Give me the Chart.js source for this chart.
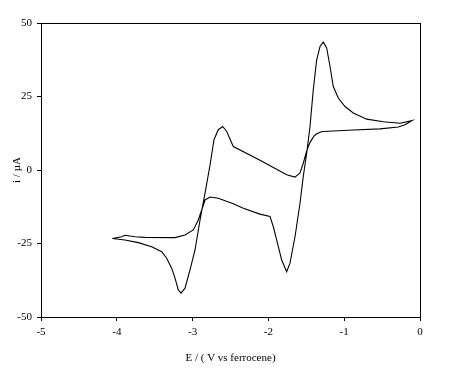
<!DOCTYPE html>
<html>
<head>
<meta charset="utf-8">
<script src="https://cdn.jsdelivr.net/npm/chart.js@4.4.1/dist/chart.umd.min.js"></script>
<style>
  html, body { margin: 0; padding: 0; background: #fff; }
  #wrap { width: 449px; height: 369px; }
</style>
</head>
<body>
<div id="wrap"><canvas id="cv"></canvas></div>
<script>
// scan from -4.06 V towards 0 V (E in V vs ferrocene, i in uA)
const scanUpE = [-4.059, -3.892, -3.716, -3.540, -3.408, -3.342, -3.276, -3.232, -3.189, -3.153,
  -3.100, -3.034, -2.968, -2.902, -2.836, -2.770, -2.718, -2.661, -2.603, -2.550, -2.463,
  -2.111, -1.759, -1.649, -1.583, -1.540, -1.495, -1.451, -1.400, -1.363, -1.300, -1.276,
  -0.880, -0.528, -0.286, -0.198, -0.105];
const scanUpI = [-23.3, -23.8, -24.7, -26.1, -27.8, -30.0, -33.4, -36.8, -40.8, -41.9,
  -40.2, -34.0, -27.2, -17.0, -7.9, 1.7, 10.3, 13.7, 14.8, 13.1, 8.0,
  3.3, -1.6, -2.4, -1.0, 2.3, 6.5, 9.4, 11.5, 12.3, 13.0, 13.1,
  13.6, 14.0, 14.6, 15.4, 16.8];

// scan back from -0.1 V to -4.06 V
const scanDownE = [-0.105, -0.264, -0.484, -0.703, -0.880, -0.989, -1.078, -1.144, -1.187, -1.231,
  -1.276, -1.319, -1.363, -1.408, -1.451, -1.495, -1.540, -1.583, -1.649, -1.715, -1.759,
  -1.825, -1.869, -1.935, -1.979, -2.111, -2.331, -2.463, -2.661, -2.770, -2.836, -2.880,
  -2.925, -2.991, -3.100, -3.232, -3.628, -3.760, -3.892, -3.935, -4.059];
const scanDownI = [16.8, 15.9, 16.4, 17.3, 19.4, 21.6, 24.5, 28.4, 35.2, 41.5,
  43.5, 42.0, 37.5, 27.3, 14.8, 5.7, -2.2, -11.3, -22.7, -31.7, -34.6,
  -30.6, -26.1, -19.3, -15.8, -15.0, -13.0, -11.5, -9.6, -9.2, -10.2, -13.6,
  -17.0, -20.4, -22.1, -23.0, -22.9, -22.7, -22.2, -22.7, -23.3];

const xTicks = [-5, -4, -3, -2, -1, 0];
const yTicks = [-50, -25, 0, 25, 50];

const loopE = scanUpE.concat(scanDownE);
const loopI = scanUpI.concat(scanDownI);
const points = loopE.map((e, k) => ({ x: e, y: loopI[k] }));

const font = { family: '"Liberation Serif", "Times New Roman", serif', size: 11 };

// frame round the plot area
const frame = {
  id: 'frame',
  afterDraw(chart) {
    const a = chart.chartArea, ctx = chart.ctx;
    ctx.save();
    ctx.strokeStyle = '#000';
    ctx.lineWidth = 1;
    ctx.strokeRect(Math.round(a.left) + 0.5, Math.round(a.top) + 0.5,
      Math.round(a.right - a.left), Math.round(a.bottom - a.top));
    ctx.restore();
  }
};

new Chart(document.getElementById('cv').getContext('2d'), {
  type: 'scatter',
  data: {
    datasets: [{
      data: points,
      showLine: true,
      borderColor: '#000',
      borderWidth: 1.1,
      pointRadius: 0,
      tension: 0,
      fill: false
    }]
  },
  options: {
    responsive: true,
    maintainAspectRatio: false,
    animation: false,
    layout: { padding: { left: 0, top: 23, right: 29, bottom: 0 } },
    plugins: { legend: { display: false }, tooltip: { enabled: false } },
    scales: {
      x: {
        type: 'linear',
        min: -5, max: 0,
        afterBuildTicks: s => { s.ticks = xTicks.map(v => ({ value: v })); },
        afterFit: s => { s.height = 52; },
        border: { color: '#000', width: 1 },
        grid: { drawOnChartArea: false, color: '#000', tickLength: 4 },
        ticks: { color: '#000', font: font, padding: 5, maxRotation: 0 },
        title: { display: true, text: 'E / ( V vs ferrocene)', color: '#000', font: font, padding: { top: 11 } }
      },
      y: {
        type: 'linear',
        min: -50, max: 50,
        afterBuildTicks: s => { s.ticks = yTicks.map(v => ({ value: v })); },
        afterFit: s => { s.width = 41; },
        border: { color: '#000', width: 1 },
        grid: { drawOnChartArea: false, color: '#000', tickLength: 4 },
        ticks: { color: '#000', font: font, padding: 5 },
        title: { display: true, text: 'i / µA', color: '#000', font: font, padding: { top: 11, bottom: 0 } }
      }
    }
  },
  plugins: [frame]
});
</script>
</body>
</html>
